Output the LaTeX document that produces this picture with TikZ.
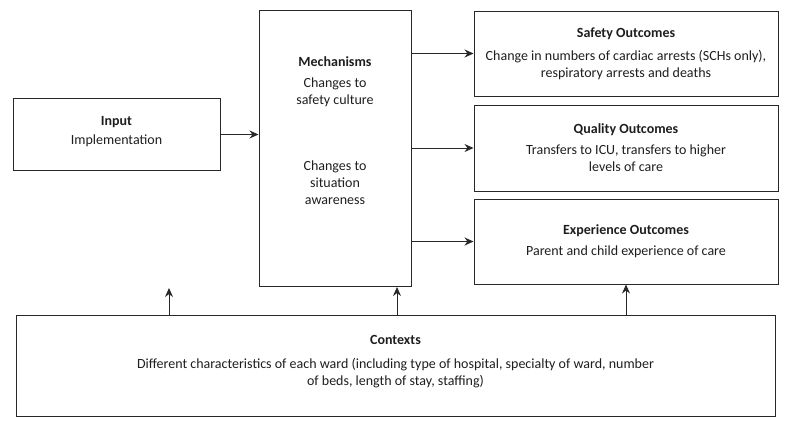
\documentclass[tikz,border=0pt]{standalone}
\usepackage{fontspec}
\setmainfont{Carlito}
\usetikzlibrary{arrows.meta,positioning,calc}
\definecolor{linegray}{RGB}{40,40,40}
\definecolor{textgray}{RGB}{30,30,30}

\begin{document}
\begin{tikzpicture}[
    x=1pt, y=-1pt,
    >={Stealth[length=9pt,width=8pt]},
    box/.style={rectangle, draw=linegray, line width=1pt, align=center, inner sep=2pt,
        text=textgray, font=\fontsize{14}{17}\selectfont},
    outcome/.style={box, minimum width=304pt, minimum height=85pt},
    link/.style={->, draw=linegray, line width=1pt}
]
    \useasboundingbox (0,0) rectangle (789,424);

    % Input and mechanisms
    \node[box, minimum width=207pt, minimum height=72pt, text depth=8pt] (input) at (116.5,134.5)
        {\textbf{Input}\\[2pt]Implementation};
    \node[box, minimum width=152pt, minimum height=276pt, text depth=35pt] (mech) at (335,148.5)
        {\textbf{Mechanisms}\\[4pt]Changes to\\safety culture\\[49pt]Changes to\\situation\\awareness};

    % Outcomes
    \node[outcome] (safety) at (626,53.5)
        {\textbf{Safety Outcomes}\\[6pt]Change in numbers of cardiac arrests (SCHs only),\\respiratory arrests and deaths};
    \node[outcome, minimum height=86pt] (quality) at (626,148)
        {\textbf{Quality Outcomes}\\[4pt]Transfers to ICU, transfers to higher\\levels of care};
    \node[outcome] (experience) at (626,241.5)
        {\textbf{Experience Outcomes}\\[4pt]Parent and child experience of care};

    % Contexts
    \node[box, minimum width=759pt, minimum height=101pt, text depth=10pt] (contexts) at (395.5,365.5)
        {\textbf{Contexts}\\[7pt]Different characteristics of each ward (including type of hospital, specialty of ward, number\\of beds, length of stay, staffing)};
    \coordinate (ctxin) at (169,288);
    \coordinate (ctxmech) at (397,315);

    % Edges
    \draw[link] (input.east) -- (input.east -| mech.west);
    \draw[link] (safety.west -| mech.east) -- (safety.west);
    \draw[link] (quality.west -| mech.east) -- (quality.west);
    \draw[link] (experience.west -| mech.east) -- (experience.west);
    \draw[link] (contexts.north -| ctxin) -- (ctxin);
    \draw[link] (ctxmech) -- (ctxmech |- mech.south);
    \draw[link] (contexts.north -| experience.south) -- (experience.south);
\end{tikzpicture}
\end{document}
